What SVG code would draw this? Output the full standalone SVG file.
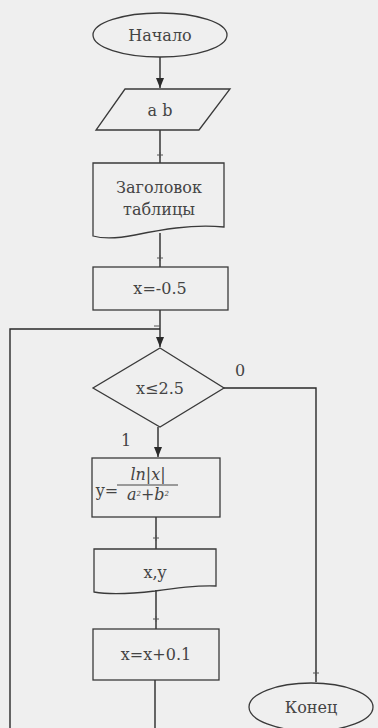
<svg xmlns="http://www.w3.org/2000/svg" width="378" height="728" viewBox="0 0 378 728">
<defs>
<marker id="ah" markerWidth="10" markerHeight="8" refX="10" refY="4" orient="auto" markerUnits="userSpaceOnUse" viewBox="0 0 10 8"><path d="M0,0 L10,4 L0,8 z" fill="#2a2a2a"/></marker>
</defs>
<style>
.s{fill:none;stroke:#3a3a3a;stroke-width:1.3}
.c{fill:none;stroke:#2a2a2a;stroke-width:1.4}
text{font-size:16px;fill:#444;text-anchor:middle}
.tk{stroke:#555;stroke-width:1}
</style>
<rect width="378" height="728" fill="#efefef"/>
<g font-family="DejaVu Serif, serif">
<g id="connectors">
<path class="c" d="M160,57 V88" marker-end="url(#ah)"/>
<path class="c" d="M160,130 V163"/>
<path class="c" d="M160,233 V267"/>
<path class="c" d="M160,310 V347" marker-end="url(#ah)"/>
<path class="c" d="M10,728 V329 H160"/>
<path class="c" d="M158,427 V457" marker-end="url(#ah)"/>
<path class="c" d="M224,388 H316 V682"/>
<path class="c" d="M156,517 V549"/>
<path class="c" d="M156,590 V629"/>
<path class="c" d="M155,680 V728"/>
<path class="tk" d="M157,155 h6 M160,152 v6 M157,258 h6 M160,255 v6 M153,538 h6 M156,535 v6 M153,619 h6 M156,616 v6 M313,673 h6 M316,670 v6 M154,326 h6"/>
<text x="240" y="376" font-size="13">0</text>
<text x="126" y="446" font-size="12">1</text>
</g>
<g id="start">
<ellipse class="s" cx="160" cy="35" rx="67" ry="22"/>
<text x="160" y="41" font-size="15.5">Начало</text>
</g>
<g id="input">
<polygon class="s" points="125,89 230,89 199,130 96,130"/>
<text x="160" y="116" font-size="11">a b</text>
</g>
<g id="header">
<path class="s" d="M93,163 H224 V227 C190,224 160,230 135,235 C115,239 100,238 93,236 Z"/>
<text x="159" y="193" font-size="16">Заголовок</text>
<text x="159" y="215" font-size="16">таблицы</text>
</g>
<g id="init">
<rect class="s" x="93" y="267" width="135" height="43"/>
<text x="160" y="294" font-size="15.5">x=-0.5</text>
</g>
<g id="cond">
<polygon class="s" points="160,348 224,388 160,427 93,388"/>
<text x="160" y="394" font-size="15.5">x≤2.5</text>
</g>
<g id="calc">
<rect class="s" x="92" y="458" width="128" height="59"/>
<text x="107" y="496" font-size="15.5">y=</text>
<line x1="117" y1="485" x2="178" y2="485" stroke="#444" stroke-width="1"/>
<text x="148" y="480" font-size="10" font-style="italic">ln|x|</text>
<text x="148" y="500" font-size="10" font-style="italic">a<tspan font-size="7" dy="-4">2</tspan><tspan dy="4">+b</tspan><tspan font-size="7" dy="-4">2</tspan></text>
</g>
<g id="output">
<path class="s" d="M94,549 H216 V586 C195,585 175,588 155,591 C130,594 110,595 94,592 Z"/>
<text x="155" y="578" font-size="15.5">x,y</text>
</g>
<g id="inc">
<rect class="s" x="93" y="629" width="126" height="51"/>
<text x="156" y="660" font-size="15.5">x=x+0.1</text>
</g>
<g id="end">
<ellipse class="s" cx="311" cy="707" rx="62" ry="24"/>
<text x="311" y="713" font-size="15.5">Конец</text>
</g>
</g>
</svg>
